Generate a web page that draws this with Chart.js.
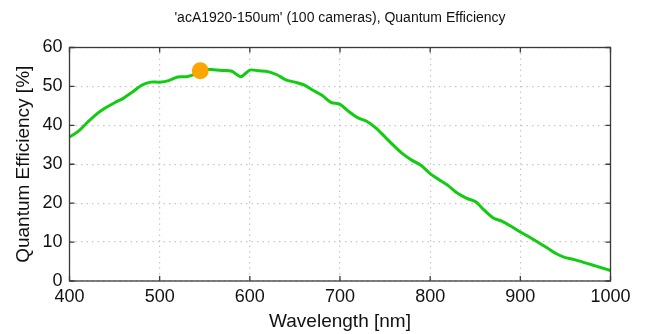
<!DOCTYPE html>
<html>
<head>
<meta charset="utf-8">
<script src="https://cdn.jsdelivr.net/npm/chart.js@4/dist/chart.umd.min.js"></script>
<style>
html,body{margin:0;padding:0;background:#fff;}
#wrap{width:651px;height:334px;}
</style>
</head>
<body>
<div id="wrap"><canvas id="c" width="651" height="334"></canvas></div>
<script>
const wavelengths = [400,410,420,430,440,450,460,470,480,490,500,510,520,530,540,550,560,570,580,590,600,610,620,630,640,650,660,670,680,690,700,710,720,730,740,750,760,770,780,790,800,810,820,830,840,850,860,870,880,890,900,910,920,930,940,950,960,970,980,990,1000];
const qe = [37.0,38.5,40.8,42.9,44.5,45.8,47.0,48.6,50.3,51.1,51.1,51.5,52.4,52.5,53.2,54.3,54.3,54.1,53.9,52.5,54.2,54.0,53.8,53.0,51.7,51.1,50.4,49.0,47.7,45.9,45.4,43.5,41.9,41.0,39.3,37.0,34.7,32.6,31.0,29.7,27.6,26.0,24.5,22.6,21.3,20.4,18.2,16.2,15.3,14.0,12.6,11.3,9.9,8.5,7.0,6.0,5.5,4.8,4.1,3.4,2.7];
const peakWavelength = [545];
const peakValue = [54.0];
const xTicks = [400,500,600,700,800,900,1000];
const yTicks = [0,10,20,30,40,50,60];
const titleText = "'acA1920-150um' (100 cameras), Quantum Efficiency";
const xTitle = "Wavelength [nm]";
const yTitle = "Quantum Efficiency [%]";

const FONT = "'Liberation Sans', Arial, Helvetica, sans-serif";

const framePlugin = {
  id: 'frame',
  afterDatasetsDraw(chart) {
    const {ctx, chartArea: a, scales: {x, y}} = chart;
    ctx.save();
    ctx.strokeStyle = '#3a3a3a';
    ctx.lineWidth = 1.3;
    ctx.setLineDash([]);
    ctx.strokeRect(a.left, a.top, a.right - a.left, a.bottom - a.top);
    const L = 5;
    ctx.beginPath();
    xTicks.forEach(v => {
      const px = x.getPixelForValue(v);
      ctx.moveTo(px, a.bottom); ctx.lineTo(px, a.bottom - L);
      ctx.moveTo(px, a.top); ctx.lineTo(px, a.top + L);
    });
    yTicks.forEach(v => {
      const py = y.getPixelForValue(v);
      ctx.moveTo(a.left, py); ctx.lineTo(a.left + L, py);
      ctx.moveTo(a.right, py); ctx.lineTo(a.right - L, py);
    });
    ctx.stroke();
    ctx.restore();
  }
};

new Chart(document.getElementById('c'), {
  type: 'line',
  data: {
    datasets: [
      {
        data: wavelengths.map((w, i) => ({x: w, y: qe[i]})),
        borderColor: '#11cc11',
        borderWidth: 3,
        pointRadius: 0,
        tension: 0.3,
        fill: false,
        order: 2
      },
      {
        data: peakWavelength.map((w, i) => ({x: w, y: peakValue[i]})),
        showLine: false,
        pointRadius: 8.5,
        pointBackgroundColor: '#ffa500',
        pointBorderColor: '#ffa500',
        pointBorderWidth: 0,
        order: 1
      }
    ]
  },
  options: {
    responsive: false,
    animation: false,
    events: [],
    layout: {padding: {left: 0, right: 40.5, top: 0, bottom: 0}},
    plugins: {
      legend: {display: false},
      tooltip: {enabled: false},
      title: {
        display: true,
        text: titleText,
        color: '#111',
        fullSize: false,
        font: {family: FONT, size: 14, weight: 'normal', lineHeight: 1.2},
        padding: {top: 10, bottom: 20.7}
      }
    },
    scales: {
      x: {
        type: 'linear',
        min: 400, max: 1000,
        afterFit(s) { s.height = 53; },
        afterBuildTicks(s) { s.ticks = xTicks.map(v => ({value: v})); },
        ticks: {color: '#111', font: {family: FONT, size: 18}, padding: 5, maxRotation: 0, callback: v => String(v)},
        grid: {color: '#c8c8c8', lineWidth: 1.2, drawTicks: false},
        border: {display: false, dash: [1.5, 4]},
        title: {display: true, text: xTitle, color: '#111', font: {family: FONT, size: 19}, padding: {top: 0, bottom: 1}}
      },
      y: {
        type: 'linear',
        min: 0, max: 60,
        afterFit(s) { s.width = 69.5; },
        afterBuildTicks(s) { s.ticks = yTicks.map(v => ({value: v})); },
        ticks: {color: '#111', font: {family: FONT, size: 18}, padding: 7, callback: v => String(v)},
        grid: {color: '#c8c8c8', lineWidth: 1.2, drawTicks: false},
        border: {display: false, dash: [1.5, 4]},
        title: {display: true, text: yTitle, color: '#111', font: {family: FONT, size: 19}, padding: {top: 12, bottom: 0}}
      }
    }
  },
  plugins: [framePlugin]
});
</script>
</body>
</html>
